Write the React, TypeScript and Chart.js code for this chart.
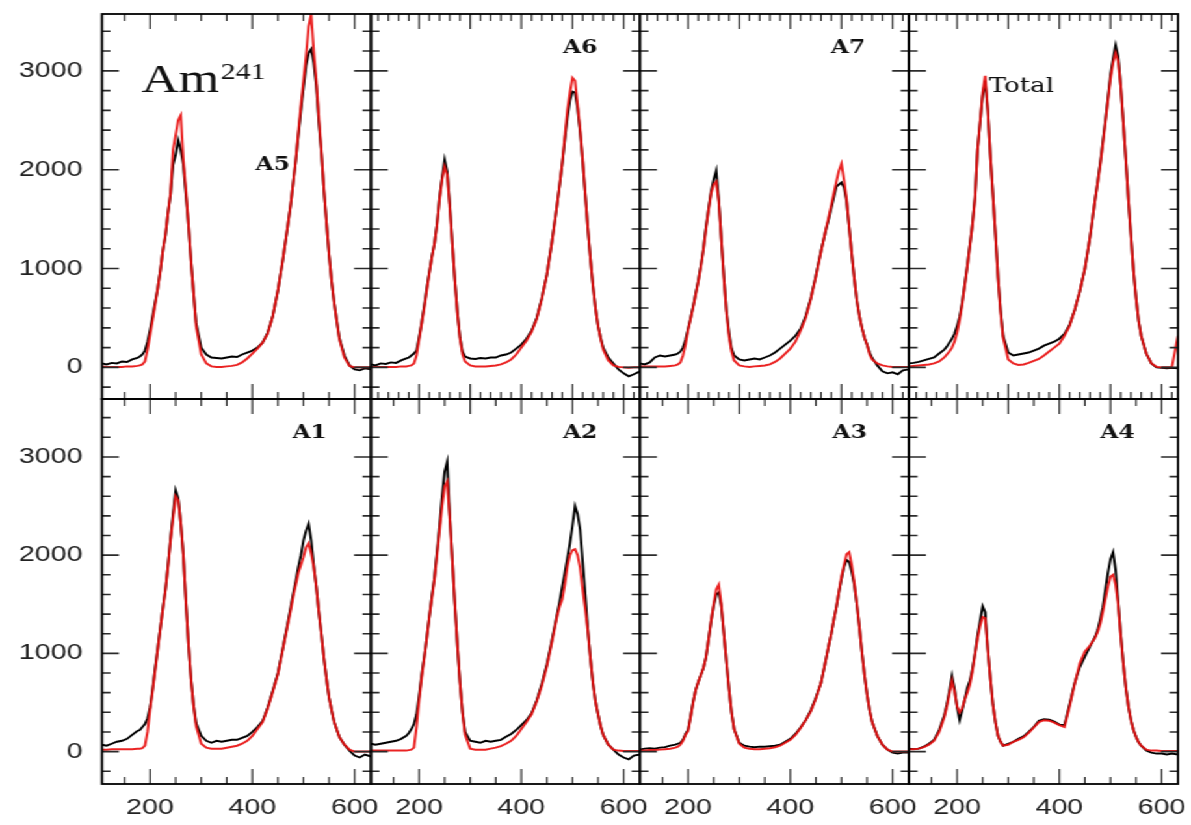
import React, { useEffect, useRef } from 'react';
import { Chart, registerables } from 'chart.js';

Chart.register(...registerables);

// ---------------- data (channel vs counts) ----------------
const CHANNEL = [
  106, 115, 125, 135, 145, 155, 165,
  175, 180, 185, 190, 195, 200, 205, 210, 215, 220, 225, 230, 235, 240, 245, 250, 255, 260, 265, 270, 275, 280, 285, 290,
  300, 310, 320, 330, 340, 350, 360, 370, 380, 390, 400, 410, 420, 430, 440, 450, 460,
  470, 475, 480, 485, 490, 495, 500, 505, 510, 515, 520, 525, 530, 535, 540, 545, 550, 555, 560,
  570, 580, 590, 600, 610, 620, 632,
];

const A5_MEASURED = [
  40, 30, 45, 40, 60, 55, 80,
  95, 110, 130, 170, 260, 380, 520, 660, 800, 980, 1180, 1330, 1560, 1750, 2050, 2150, 2300, 2200, 2050, 1750, 1450, 1080, 760, 450,
  200, 130, 100, 95, 90, 100, 110, 105, 130, 150, 170, 200, 250, 350, 520, 780, 1100,
  1460, 1650, 1870, 2100, 2350, 2600, 2830, 3050, 3180, 3220, 3080, 2850, 2480, 2160, 1790, 1460, 1140, 870, 650,
  300, 120, 20, -20, -30, -10, -20,
];
const A5_SIMULATED = [
  10, 5, 5, 5, 5, 10, 10,
  15, 20, 30, 60, 180, 330, 480, 640, 800, 970, 1180, 1340, 1560, 1760, 2200, 2350, 2500, 2550, 2100, 1800, 1450, 1080, 760, 420,
  130, 40, 10, 5, 5, 10, 15, 25, 50, 90, 140, 190, 250, 340, 520, 780, 1100,
  1460, 1650, 1870, 2100, 2380, 2650, 2900, 3150, 3450, 3570, 3200, 2900, 2520, 2180, 1800, 1460, 1140, 870, 650,
  290, 100, 15, 0, 0, 0, 0,
];

const A6_MEASURED = [
  30, 20, 40, 35, 50, 45, 70,
  90, 100, 120, 140, 170, 300, 450, 620, 800, 960, 1120, 1250, 1450, 1720, 1920, 2100, 1980, 1650, 1250, 880, 560, 300, 160, 110,
  90, 85, 95, 90, 100, 100, 120, 130, 150, 190, 230, 290, 370, 500, 700, 940, 1280,
  1650, 1850, 2060, 2300, 2520, 2700, 2790, 2780, 2620, 2380, 2080, 1750, 1410, 1100, 830, 600, 420, 300, 200,
  100, 40, -20, -60, -90, -70, -40,
];
const A6_SIMULATED = [
  5, 5, 5, 5, 5, 5, 10,
  10, 15, 20, 40, 120, 280, 440, 600, 780, 950, 1110, 1250, 1440, 1700, 1900, 2030, 1950, 1620, 1250, 880, 540, 290, 130, 60,
  20, 10, 10, 10, 15, 20, 30, 50, 80, 130, 200, 270, 360, 490, 690, 940, 1270,
  1650, 1850, 2070, 2330, 2600, 2780, 2930, 2900, 2650, 2400, 2100, 1750, 1410, 1100, 830, 600, 420, 290, 180,
  70, 20, 5, 0, -5, 0, 0,
];

const A7_MEASURED = [
  40, 30, 50, 100, 120, 110, 120,
  130, 140, 160, 200, 280, 390, 500, 620, 750, 880, 1030, 1200, 1420, 1600, 1780, 1900, 1990, 1700, 1300, 920, 580, 350, 190, 120,
  80, 70, 80, 90, 80, 100, 120, 150, 190, 230, 270, 320, 390, 520, 700, 930, 1180,
  1400, 1500, 1610, 1720, 1830, 1850, 1870, 1820, 1680, 1420, 1150, 900, 680, 520, 400, 300, 230, 150, 95,
  20, -40, -60, -50, -70, -30, -20,
];
const A7_SIMULATED = [
  10, 10, 10, 10, 10, 10, 15,
  20, 30, 50, 120, 230, 380, 490, 610, 740, 870, 1020, 1190, 1400, 1590, 1760, 1850, 1880, 1680, 1300, 900, 560, 320, 160, 70,
  20, 10, 5, 10, 15, 20, 30, 55, 90, 140, 190, 260, 370, 500, 690, 920, 1170,
  1410, 1520, 1640, 1760, 1880, 1990, 2060, 1900, 1700, 1420, 1150, 900, 680, 520, 400, 300, 230, 130, 80,
  40, 20, 10, 5, 5, 5, 5,
];

const TOTAL_MEASURED = [
  40, 45, 55, 70, 85, 100, 140,
  180, 210, 250, 290, 340, 420, 510, 660, 840, 1030, 1240, 1450, 1720, 2200, 2480, 2750, 2900, 2600, 2150, 1750, 1350, 920, 580, 320,
  150, 120, 130, 140, 150, 170, 190, 220, 240, 260, 290, 340, 430, 580, 770, 1000, 1320,
  1700, 1880, 2070, 2280, 2500, 2720, 2960, 3120, 3260, 3150, 2850, 2480, 2100, 1700, 1330, 980, 700, 470, 320,
  140, 40, 0, -5, -10, -5, -10,
];
const TOTAL_SIMULATED = [
  10, 15, 20, 25, 30, 40, 60,
  100, 130, 160, 200, 260, 350, 480, 640, 830, 1020, 1230, 1440, 1710, 2200, 2480, 2780, 2950, 2600, 2150, 1750, 1350, 910, 560, 300,
  80, 40, 25, 30, 45, 65, 85, 120, 160, 200, 240, 320, 420, 580, 770, 1000, 1320,
  1700, 1870, 2050, 2260, 2480, 2700, 2920, 3080, 3180, 3100, 2850, 2480, 2100, 1700, 1330, 980, 700, 470, 320,
  140, 40, 5, 0, 0, 0, 320,
];

const A1_MEASURED = [
  70, 60, 80, 100, 110, 130, 170,
  210, 220, 250, 280, 340, 450, 640, 850, 1050, 1260, 1460, 1650, 1890, 2170, 2420, 2660, 2580, 2330, 2000, 1530, 1100, 740, 480, 290,
  160, 110, 90, 110, 100, 110, 120, 120, 140, 160, 200, 250, 310, 450, 620, 800, 1060,
  1330, 1470, 1610, 1740, 1880, 2000, 2150, 2250, 2320, 2150, 1900, 1680, 1420, 1190, 950, 740, 550, 420, 300,
  150, 70, 10, -40, -60, -30, -50,
];
const A1_SIMULATED = [
  20, 20, 25, 25, 25, 25, 25,
  30, 30, 35, 60, 200, 430, 620, 830, 1040, 1250, 1450, 1640, 1880, 2150, 2380, 2600, 2560, 2330, 2000, 1530, 1100, 740, 470, 260,
  80, 40, 30, 30, 30, 40, 50, 60, 80, 110, 160, 230, 300, 440, 610, 790, 1050,
  1310, 1440, 1580, 1700, 1820, 1900, 1980, 2080, 2120, 2020, 1880, 1680, 1420, 1190, 950, 740, 550, 420, 300,
  150, 70, 20, 0, 0, 0, 0,
];

const A2_MEASURED = [
  80, 70, 80, 90, 100, 110, 130,
  160, 190, 230, 280, 380, 560, 780, 960, 1160, 1370, 1580, 1770, 2030, 2300, 2600, 2850, 2950, 2400, 1950, 1500, 1080, 700, 400, 200,
  110, 100, 90, 110, 100, 110, 120, 150, 180, 220, 270, 320, 390, 520, 690, 890, 1140,
  1400, 1530, 1680, 1820, 1970, 2120, 2300, 2500, 2420, 2260, 1930, 1600, 1250, 950, 700, 510, 380, 260, 170,
  70, 20, -30, -60, -80, -40, -30,
];
const A2_SIMULATED = [
  10, 10, 10, 10, 10, 10, 10,
  10, 15, 20, 40, 250, 520, 750, 950, 1150, 1370, 1560, 1750, 2000, 2250, 2500, 2700, 2750, 2380, 1950, 1500, 1080, 700, 390, 170,
  30, 20, 20, 20, 30, 40, 55, 80, 110, 160, 230, 300, 380, 510, 670, 870, 1120,
  1380, 1480, 1550, 1700, 1880, 2000, 2050, 2060, 2000, 1870, 1650, 1450, 1230, 950, 700, 510, 380, 260, 170,
  70, 20, 10, 5, 5, 5, 5,
];

const A3_MEASURED = [
  20, 30, 35, 30, 40, 45, 60,
  70, 80, 90, 120, 180, 220, 360, 510, 630, 710, 780, 850, 960, 1140, 1330, 1480, 1600, 1620, 1480, 1200, 920, 640, 400, 230,
  90, 60, 50, 45, 50, 50, 55, 60, 70, 100, 130, 180, 245, 320, 420, 550, 700,
  950, 1080, 1200, 1340, 1470, 1620, 1760, 1880, 1950, 1930, 1830, 1700, 1500, 1270, 1010, 780, 580, 420, 300,
  160, 70, 20, -10, -20, -10, -10,
];
const A3_SIMULATED = [
  10, 10, 15, 15, 20, 25, 30,
  40, 50, 70, 110, 170, 210, 350, 500, 630, 710, 780, 850, 960, 1140, 1330, 1500, 1650, 1700, 1500, 1200, 920, 640, 400, 230,
  80, 40, 30, 25, 25, 30, 35, 45, 60, 90, 120, 170, 240, 320, 410, 540, 700,
  950, 1080, 1200, 1340, 1470, 1630, 1780, 1900, 2010, 2030, 1900, 1720, 1510, 1270, 1010, 780, 580, 420, 300,
  160, 70, 20, 0, 0, 0, 0,
];

const A4_MEASURED = [
  30, 25, 30, 50, 80, 120, 220,
  370, 480, 620, 770, 640, 450, 320, 420, 530, 650, 720, 840, 1000, 1180, 1330, 1480, 1420, 1040, 750, 480, 300, 160, 100, 60,
  80, 100, 130, 155, 200, 250, 315, 330, 325, 305, 275, 270, 480, 700, 860, 970, 1070,
  1170, 1240, 1350, 1470, 1650, 1820, 1960, 2030, 1850, 1520, 1200, 900, 650, 460, 320, 220, 150, 95, 60,
  10, -10, -20, -20, -30, -20, -30,
];
const A4_SIMULATED = [
  25, 25, 30, 45, 70, 110, 200,
  350, 460, 590, 720, 610, 460, 400, 440, 530, 600, 680, 820, 990, 1150, 1280, 1370, 1360, 1040, 750, 480, 300, 160, 100, 60,
  70, 100, 120, 145, 190, 245, 300, 320, 315, 295, 270, 250, 460, 690, 900, 1020, 1080,
  1160, 1220, 1300, 1420, 1550, 1680, 1780, 1800, 1700, 1500, 1180, 900, 650, 460, 320, 220, 150, 95, 60,
  20, 10, 10, 5, 5, 5, 5,
];

const X_TICK_LABELS = [200, 400, 600];
const Y_TICK_LABELS = [0, 1000, 2000, 3000];

// ---------------- layout ----------------
const CANVAS_W = 916;
const CANVAS_H = 825;
const STRETCH = 1191 / CANVAS_W;
const LEFT_AXIS_W = 102 / STRETCH;
const RIGHT_PAD = CANVAS_W - 1178 / STRETCH;
const TOP_PAD = 14;
const BOTTOM_AXIS_H = 41;

type PanelDef = {
  name: string;
  col: number;
  row: number;
  measured: number[];
  simulated: number[];
  lx: number;
  ly: number;
  align: CanvasTextAlign;
  font: string;
  topMinor: number;
  topMajor: number;
  botMinor: number;
  botMajor: number;
};

const LABEL_FONT = 'bold 18px "DejaVu Serif", serif';

const PANELS: PanelDef[] = [
  { name: 'A5', col: 0, row: 0, measured: A5_MEASURED, simulated: A5_SIMULATED, lx: 440, ly: 2000, align: 'center', font: LABEL_FONT, topMinor: 50, topMajor: 200, botMinor: 50, botMajor: 200 },
  { name: 'A6', col: 1, row: 0, measured: A6_MEASURED, simulated: A6_SIMULATED, lx: 515, ly: 3180, align: 'center', font: LABEL_FONT, topMinor: 20, topMajor: 100, botMinor: 20, botMajor: 100 },
  { name: 'A7', col: 2, row: 0, measured: A7_MEASURED, simulated: A7_SIMULATED, lx: 513, ly: 3180, align: 'center', font: LABEL_FONT, topMinor: 20, topMajor: 100, botMinor: 20, botMajor: 100 },
  { name: 'Total', col: 3, row: 0, measured: TOTAL_MEASURED, simulated: TOTAL_SIMULATED, lx: 262, ly: 2790, align: 'left', font: '20px "DejaVu Serif", serif', topMinor: 20, topMajor: 100, botMinor: 20, botMajor: 100 },
  { name: 'A1', col: 0, row: 1, measured: A1_MEASURED, simulated: A1_SIMULATED, lx: 512, ly: 3195, align: 'center', font: LABEL_FONT, topMinor: 50, topMajor: 200, botMinor: 50, botMajor: 200 },
  { name: 'A2', col: 1, row: 1, measured: A2_MEASURED, simulated: A2_SIMULATED, lx: 515, ly: 3195, align: 'center', font: LABEL_FONT, topMinor: 50, topMajor: 100, botMinor: 50, botMajor: 200 },
  { name: 'A3', col: 2, row: 1, measured: A3_MEASURED, simulated: A3_SIMULATED, lx: 516, ly: 3195, align: 'center', font: LABEL_FONT, topMinor: 50, topMajor: 100, botMinor: 50, botMajor: 200 },
  { name: 'A4', col: 3, row: 1, measured: A4_MEASURED, simulated: A4_SIMULATED, lx: 514, ly: 3195, align: 'center', font: LABEL_FONT, topMinor: 50, topMajor: 100, botMinor: 50, botMajor: 200 },
];

const yId = (row: number) => (row === 0 ? 'yT' : 'yB');

const framePlugin = {
  id: 'panelFrames',
  afterDatasetsDraw(chart: any) {
    const ctx: CanvasRenderingContext2D = chart.ctx;
    ctx.save();
    for (const p of PANELS) {
      const xs = chart.scales['x' + p.col];
      const ys = chart.scales[yId(p.row)];
      const l = xs.left, r = xs.right, t = ys.top, b = ys.bottom;

      // y ticks on left/right edges (inward)
      ctx.strokeStyle = '#2b2b2b';
      ctx.lineWidth = 1.6;
      ctx.beginPath();
      for (let v = -200; v <= 3500; v += 200) {
        const py = ys.getPixelForValue(v);
        if (py < t + 1 || py > b - 1) continue;
        const len = v % 1000 === 0 ? 13 : 6.5;
        ctx.moveTo(l, py); ctx.lineTo(l + len, py);
        ctx.moveTo(r, py); ctx.lineTo(r - len, py);
      }
      ctx.stroke();

      // x ticks on top/bottom edges (inward)
      ctx.lineWidth = 1.2;
      ctx.beginPath();
      const xt = (minor: number, major: number, edge: number, dir: number) => {
        for (let v = Math.ceil(106 / minor) * minor; v <= 632; v += minor) {
          const px = xs.getPixelForValue(v);
          if (px < l + 1.5 || px > r - 1.5) continue;
          const len = v % major === 0 ? 15 : 7;
          ctx.moveTo(px, edge); ctx.lineTo(px, edge + dir * len);
        }
      };
      xt(p.topMinor, p.topMajor, t, 1);
      xt(p.botMinor, p.botMajor, b, -1);
      ctx.stroke();

      // frame
      ctx.strokeStyle = '#000';
      ctx.lineWidth = 1.8;
      ctx.strokeRect(l, t, r - l, b - t);

      // panel label
      ctx.fillStyle = '#111';
      ctx.font = p.font;
      ctx.textAlign = p.align;
      ctx.textBaseline = 'alphabetic';
      ctx.fillText(p.name, xs.getPixelForValue(p.lx), ys.getPixelForValue(p.ly));
    }

    // Am^241 annotation
    const x0 = chart.scales.x0;
    const yT = chart.scales.yT;
    const ax = x0.getPixelForValue(183);
    const ay = yT.getPixelForValue(2790);
    ctx.fillStyle = '#111';
    ctx.textAlign = 'left';
    ctx.font = '40px "Liberation Serif", serif';
    ctx.fillText('Am', ax, ay);
    const w = ctx.measureText('Am').width;
    ctx.font = '23px "Liberation Serif", serif';
    ctx.fillText('241', ax + w + 1, ay - 13);
    ctx.restore();
  },
};

const tickFont = { family: '"Liberation Sans", Arial, sans-serif', size: 22 };

const zeroPadding = (axis: any) => {
  axis.paddingLeft = 0;
  axis.paddingRight = 0;
  axis.paddingTop = 0;
  axis.paddingBottom = 0;
};

function xAxis() {
  return {
    type: 'linear',
    position: 'bottom',
    stack: 'cols',
    stackWeight: 1,
    min: 106,
    max: 632,
    grid: { display: false, drawTicks: false },
    border: { display: false },
    ticks: {
      font: tickFont,
      color: '#222',
      padding: 11,
      maxRotation: 0,
      autoSkip: false,
      callback: (v: any) => String(v),
    },
    afterBuildTicks: (axis: any) => {
      axis.ticks = X_TICK_LABELS.map((v) => ({ value: v }));
    },
    afterFit: (axis: any) => {
      axis.height = BOTTOM_AXIS_H;
      zeroPadding(axis);
    },
  };
}

function yAxis(weight: number, min: number, max: number) {
  return {
    type: 'linear',
    position: 'left',
    stack: 'rows',
    stackWeight: 1,
    weight,
    min,
    max,
    grid: { display: false, drawTicks: false },
    border: { display: false },
    ticks: {
      font: tickFont,
      color: '#222',
      padding: 15,
      autoSkip: false,
      callback: (v: any) => String(v),
    },
    afterBuildTicks: (axis: any) => {
      axis.ticks = Y_TICK_LABELS.map((v) => ({ value: v }));
    },
    afterFit: (axis: any) => {
      axis.width = LEFT_AXIS_W;
      zeroPadding(axis);
    },
  };
}

export default function App() {
  const canvasRef = useRef<HTMLCanvasElement | null>(null);

  useEffect(() => {
    document.body.style.overflow = 'hidden';
    const canvas = canvasRef.current;
    if (!canvas) return;

    const datasets: any[] = [];
    for (const p of PANELS) {
      datasets.push({
        label: p.name + ' simulated',
        data: CHANNEL.map((x, i) => ({ x, y: p.simulated[i] })),
        xAxisID: 'x' + p.col,
        yAxisID: yId(p.row),
        borderColor: 'rgba(232,16,16,0.92)',
        borderWidth: 2,
        pointRadius: 0,
        tension: 0,
        order: 0,
      });
      datasets.push({
        label: p.name + ' measured',
        data: CHANNEL.map((x, i) => ({ x, y: p.measured[i] })),
        xAxisID: 'x' + p.col,
        yAxisID: yId(p.row),
        borderColor: '#000000',
        borderWidth: 1.9,
        pointRadius: 0,
        tension: 0,
        order: 1,
      });
    }

    const chart = new Chart(canvas, {
      type: 'line',
      data: { datasets },
      options: {
        animation: false,
        responsive: false,
        devicePixelRatio: 1,
        layout: {
          autoPadding: false,
          padding: { left: 0, right: RIGHT_PAD, top: TOP_PAD, bottom: 0 },
        },
        plugins: {
          legend: { display: false },
          tooltip: { enabled: false },
        },
        scales: {
          x0: xAxis(),
          x1: xAxis(),
          x2: xAxis(),
          x3: xAxis(),
          yT: yAxis(1, -320, 3575),
          yB: yAxis(0, -330, 3590),
        } as any,
      } as any,
      plugins: [framePlugin as any],
    });

    return () => {
      chart.destroy();
    };
  }, []);

  return (
    <div
      style={{
        position: 'absolute',
        left: 0,
        top: 0,
        width: CANVAS_W,
        height: CANVAS_H,
        transform: `scaleX(${STRETCH})`,
        transformOrigin: '0 0',
        background: '#fff',
      }}
    >
      <canvas
        ref={canvasRef}
        width={CANVAS_W}
        height={CANVAS_H}
        style={{ width: CANVAS_W, height: CANVAS_H, display: 'block' }}
      />
    </div>
  );
}
